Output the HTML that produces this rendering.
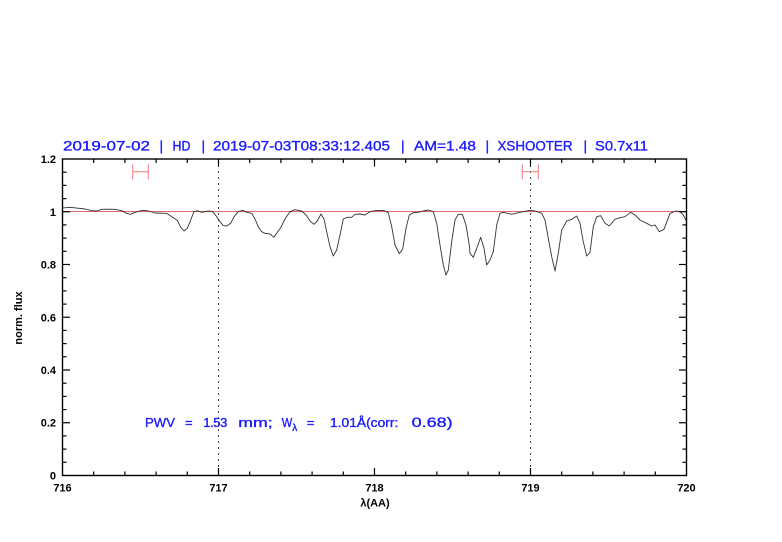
<!DOCTYPE html>
<html>
<head>
<meta charset="utf-8">
<style>
html,body{margin:0;padding:0;background:#fff;}
svg{display:block;}
text{font-family:"Liberation Sans",sans-serif;}
</style>
</head>
<body>
<svg width="782" height="542" viewBox="0 0 782 542" xmlns="http://www.w3.org/2000/svg">
<rect width="782" height="542" fill="#fff"/>

<!-- title -->
<g fill="#1a1aff" stroke="#1a1aff" stroke-width="0.35" font-size="14">
<text x="63" y="150.5" textLength="87" lengthAdjust="spacingAndGlyphs">2019-07-02</text>
<text x="159.5" y="150.5">|</text>
<text x="172.5" y="150.5" textLength="18" lengthAdjust="spacingAndGlyphs">HD</text>
<text x="201.5" y="150.5">|</text>
<text x="213" y="150.5" textLength="177" lengthAdjust="spacingAndGlyphs">2019-07-03T08:33:12.405</text>
<text x="401" y="150.5">|</text>
<text x="414" y="150.5" textLength="62" lengthAdjust="spacingAndGlyphs">AM=1.48</text>
<text x="485.5" y="150.5">|</text>
<text x="497.5" y="150.5" textLength="75" lengthAdjust="spacingAndGlyphs">XSHOOTER</text>
<text x="583.5" y="150.5">|</text>
<text x="595" y="150.5" textLength="53" lengthAdjust="spacingAndGlyphs">S0.7x11</text>
</g>

<!-- reference line at 1 -->
<line x1="62.5" y1="211.5" x2="686.5" y2="211.5" stroke="#e06a6a" stroke-width="0.9"/>

<!-- dotted verticals -->
<line x1="218.5" y1="159" x2="218.5" y2="475.5" stroke="#444" stroke-width="1" stroke-dasharray="2,4"/>
<line x1="530.5" y1="159" x2="530.5" y2="475.5" stroke="#444" stroke-width="1" stroke-dasharray="2,4"/>

<!-- error bars -->
<g stroke="#f58a8a" stroke-width="1.2" fill="none">
<line x1="132.7" y1="171.7" x2="148.3" y2="171.7"/>
<line x1="132.7" y1="164.3" x2="132.7" y2="179.3"/>
<line x1="148.3" y1="164.3" x2="148.3" y2="179.3"/>
<line x1="522.3" y1="171.7" x2="538.3" y2="171.7"/>
<line x1="522.3" y1="164.5" x2="522.3" y2="179.3"/>
<line x1="538.3" y1="164.5" x2="538.3" y2="179.3"/>
</g>

<!-- spectrum -->
<polyline fill="none" stroke="#333" stroke-width="0.9" stroke-linejoin="round" points="
62.5,207.8 66,207.7 70,207.3 78,208.2 85,209 91.7,210.7 96.7,211 101.7,209.3 108,209.2 115,209.3 121.7,210.7
126.7,213.3 130.7,214.3 135,212.3 142.7,210.3 148.3,211 155,213 166.7,213.3 171.7,216.7 177.3,220.3
180.7,227.3 184,231 187.3,228.3 190.7,220 194,211.7 197.3,210.7 201.7,212.3 208.3,211 212.7,211.7
216.7,216.7 220,221.7 223.3,225.7 226.7,226 230.7,223.3 234,216.7 238.3,211.7 242.7,210.3 246.7,212.3
251.7,213.3 255,219 258.3,226.7 261.7,231.7 265,233.3 270,234 274,237.3 276.7,233.3 280.7,227.7
285,219 290,211.7 295,209.7 301.7,211 306,215 310.7,221.7 314,224.3 317.3,221 321,214 324,219
326.7,231.7 330,246.7 333.3,256 336.7,250 340,235 343.3,219 347.3,217.3 351.7,217.3 355,214.3
360,214 365,215 370,211.7 375,210.7 383.3,210.3 388.3,212.7 391.7,226.7 395,245 399.3,253.7
402.7,249 406,228.3 409.3,215 413.3,212.7 418.3,212.3 423.3,211 428.3,210 433.3,211.7 436.7,223.3
440,245 443.3,265 446,275 448.3,270 451.7,241.7 455,220 458.3,214.3 462.3,214.3 466,225 469.3,245
470,253.3 473.3,257.3 476.7,248.3 480.7,237.3 484,248.3 486.7,265 490,260 493.3,251.7 496.7,225
500,213.3 503.3,212.3 511.7,214.3 520,212.3 530,210.3 535,211 541.7,213.3 545,220 548.3,238.3
551.7,256.7 555,271 558.3,253.3 561.7,230 566.7,221 571.7,219.3 576.7,216 580,223.3 583.3,241.7
586.7,256 590,252.3 593.3,226.7 596.7,216.7 600.7,215.7 605,223.3 609.3,226 615,219.3 620,217.7
625,216.7 630.7,212.3 635,215 640,220 646.7,223.3 651.7,226 655,225 659.3,231.7 664,229.3 670,213.3
676,211 680,211.7 683.3,215 686.3,221"/>

<!-- axes box -->
<rect x="62.5" y="159" width="624" height="316.5" fill="none" stroke="#000" stroke-width="1.4"/>

<!-- x ticks -->
<g stroke="#000" stroke-width="1.2">
<line x1="93.7" y1="475.5" x2="93.7" y2="471.5"/><line x1="124.9" y1="475.5" x2="124.9" y2="471.5"/><line x1="156.1" y1="475.5" x2="156.1" y2="471.5"/><line x1="187.3" y1="475.5" x2="187.3" y2="471.5"/>
<line x1="218.5" y1="475.5" x2="218.5" y2="468"/>
<line x1="249.7" y1="475.5" x2="249.7" y2="471.5"/><line x1="280.9" y1="475.5" x2="280.9" y2="471.5"/><line x1="312.1" y1="475.5" x2="312.1" y2="471.5"/><line x1="343.3" y1="475.5" x2="343.3" y2="471.5"/>
<line x1="374.5" y1="475.5" x2="374.5" y2="468"/>
<line x1="405.7" y1="475.5" x2="405.7" y2="471.5"/><line x1="436.9" y1="475.5" x2="436.9" y2="471.5"/><line x1="468.1" y1="475.5" x2="468.1" y2="471.5"/><line x1="499.3" y1="475.5" x2="499.3" y2="471.5"/>
<line x1="530.5" y1="475.5" x2="530.5" y2="468"/>
<line x1="561.7" y1="475.5" x2="561.7" y2="471.5"/><line x1="592.9" y1="475.5" x2="592.9" y2="471.5"/><line x1="624.1" y1="475.5" x2="624.1" y2="471.5"/><line x1="655.3" y1="475.5" x2="655.3" y2="471.5"/>
<!-- top -->
<line x1="93.7" y1="159" x2="93.7" y2="163"/><line x1="124.9" y1="159" x2="124.9" y2="163"/><line x1="156.1" y1="159" x2="156.1" y2="163"/><line x1="187.3" y1="159" x2="187.3" y2="163"/>
<line x1="218.5" y1="159" x2="218.5" y2="166.5"/>
<line x1="249.7" y1="159" x2="249.7" y2="163"/><line x1="280.9" y1="159" x2="280.9" y2="163"/><line x1="312.1" y1="159" x2="312.1" y2="163"/><line x1="343.3" y1="159" x2="343.3" y2="163"/>
<line x1="374.5" y1="159" x2="374.5" y2="166.5"/>
<line x1="405.7" y1="159" x2="405.7" y2="163"/><line x1="436.9" y1="159" x2="436.9" y2="163"/><line x1="468.1" y1="159" x2="468.1" y2="163"/><line x1="499.3" y1="159" x2="499.3" y2="163"/>
<line x1="530.5" y1="159" x2="530.5" y2="166.5"/>
<line x1="561.7" y1="159" x2="561.7" y2="163"/><line x1="592.9" y1="159" x2="592.9" y2="163"/><line x1="624.1" y1="159" x2="624.1" y2="163"/><line x1="655.3" y1="159" x2="655.3" y2="163"/>
</g>

<!-- y ticks -->
<g stroke="#000" stroke-width="1.2">
<line x1="62.5" y1="462.3" x2="66.5" y2="462.3"/><line x1="62.5" y1="449.1" x2="66.5" y2="449.1"/><line x1="62.5" y1="435.9" x2="66.5" y2="435.9"/>
<line x1="62.5" y1="422.75" x2="70" y2="422.75"/>
<line x1="62.5" y1="409.6" x2="66.5" y2="409.6"/><line x1="62.5" y1="396.4" x2="66.5" y2="396.4"/><line x1="62.5" y1="383.2" x2="66.5" y2="383.2"/>
<line x1="62.5" y1="370" x2="70" y2="370"/>
<line x1="62.5" y1="356.8" x2="66.5" y2="356.8"/><line x1="62.5" y1="343.6" x2="66.5" y2="343.6"/><line x1="62.5" y1="330.4" x2="66.5" y2="330.4"/>
<line x1="62.5" y1="317.25" x2="70" y2="317.25"/>
<line x1="62.5" y1="304.1" x2="66.5" y2="304.1"/><line x1="62.5" y1="290.9" x2="66.5" y2="290.9"/><line x1="62.5" y1="277.7" x2="66.5" y2="277.7"/>
<line x1="62.5" y1="264.5" x2="70" y2="264.5"/>
<line x1="62.5" y1="251.3" x2="66.5" y2="251.3"/><line x1="62.5" y1="238.1" x2="66.5" y2="238.1"/><line x1="62.5" y1="224.9" x2="66.5" y2="224.9"/>
<line x1="62.5" y1="211.75" x2="70" y2="211.75"/>
<line x1="62.5" y1="198.6" x2="66.5" y2="198.6"/><line x1="62.5" y1="185.4" x2="66.5" y2="185.4"/><line x1="62.5" y1="172.2" x2="66.5" y2="172.2"/>
<!-- right -->
<line x1="686.5" y1="462.3" x2="682.5" y2="462.3"/><line x1="686.5" y1="449.1" x2="682.5" y2="449.1"/><line x1="686.5" y1="435.9" x2="682.5" y2="435.9"/>
<line x1="686.5" y1="422.75" x2="679" y2="422.75"/>
<line x1="686.5" y1="409.6" x2="682.5" y2="409.6"/><line x1="686.5" y1="396.4" x2="682.5" y2="396.4"/><line x1="686.5" y1="383.2" x2="682.5" y2="383.2"/>
<line x1="686.5" y1="370" x2="679" y2="370"/>
<line x1="686.5" y1="356.8" x2="682.5" y2="356.8"/><line x1="686.5" y1="343.6" x2="682.5" y2="343.6"/><line x1="686.5" y1="330.4" x2="682.5" y2="330.4"/>
<line x1="686.5" y1="317.25" x2="679" y2="317.25"/>
<line x1="686.5" y1="304.1" x2="682.5" y2="304.1"/><line x1="686.5" y1="290.9" x2="682.5" y2="290.9"/><line x1="686.5" y1="277.7" x2="682.5" y2="277.7"/>
<line x1="686.5" y1="264.5" x2="679" y2="264.5"/>
<line x1="686.5" y1="251.3" x2="682.5" y2="251.3"/><line x1="686.5" y1="238.1" x2="682.5" y2="238.1"/><line x1="686.5" y1="224.9" x2="682.5" y2="224.9"/>
<line x1="686.5" y1="211.75" x2="679" y2="211.75"/>
<line x1="686.5" y1="198.6" x2="682.5" y2="198.6"/><line x1="686.5" y1="185.4" x2="682.5" y2="185.4"/><line x1="686.5" y1="172.2" x2="682.5" y2="172.2"/>
</g>

<!-- y tick labels -->
<g font-size="11" font-weight="bold" fill="#000" text-anchor="end">
<text x="56" y="479.5">0</text>
<text x="56" y="426.5">0.2</text>
<text x="56" y="374">0.4</text>
<text x="56" y="321.3">0.6</text>
<text x="56" y="268.5">0.8</text>
<text x="56" y="215.8">1</text>
<text x="56" y="163">1.2</text>
</g>

<!-- x tick labels -->
<g font-size="11" font-weight="bold" fill="#000" text-anchor="middle">
<text x="62.5" y="491.5">716</text>
<text x="218.5" y="491.5">717</text>
<text x="374.5" y="491.5">718</text>
<text x="530.5" y="491.5">719</text>
<text x="686.5" y="491.5">720</text>
</g>

<!-- axis labels -->
<text x="375" y="506.5" font-size="11" font-weight="bold" text-anchor="middle" fill="#000">λ(AA)</text>
<text transform="translate(22,318) rotate(-90)" font-size="11" font-weight="bold" text-anchor="middle" fill="#000" font-family="Liberation Serif, serif">norm. flux</text>

<!-- PWV annotation -->
<g fill="#1a1aff" stroke="#1a1aff" stroke-width="0.35" font-size="13">
<text x="145" y="427" textLength="30" lengthAdjust="spacingAndGlyphs">PWV</text>
<text x="185" y="427">=</text>
<text x="203.3" y="427" textLength="24" lengthAdjust="spacing">1.53</text>
<text x="238.3" y="427" textLength="34.4" lengthAdjust="spacingAndGlyphs">mm;</text>
<text x="281.7" y="427" textLength="10.5" lengthAdjust="spacingAndGlyphs">W</text>
<text x="292.3" y="431" font-size="10">λ</text>
<text x="306.7" y="427">=</text>
<text x="330" y="427" textLength="68.3" lengthAdjust="spacingAndGlyphs">1.01Å(corr:</text>
<text x="411.7" y="427" font-size="14" textLength="41" lengthAdjust="spacingAndGlyphs">0.68)</text>
</g>
</svg>
</body>
</html>
